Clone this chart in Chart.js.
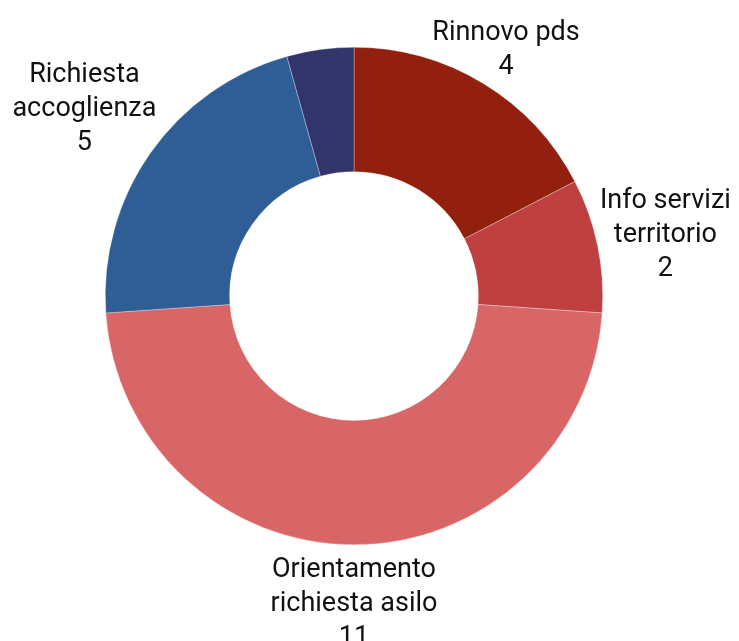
<!DOCTYPE html>
<html>
<head>
<meta charset="utf-8">
<script src="https://cdn.jsdelivr.net/npm/chart.js@4"></script>
<style>
  html, body { margin: 0; padding: 0; background: #fff; }
  canvas { display: block; }
</style>
</head>
<body>
<canvas id="donutChart" width="739" height="641"></canvas>
<script>
// Chart data
const categories = [
  ["Rinnovo pds"],
  ["Info servizi", "territorio"],
  ["Orientamento", "richiesta asilo"],
  ["Richiesta", "accoglienza"],
  ["Altro"]
];
const values = [4, 2, 11, 5, 1];
const colors = ["#93200e", "#bf4040", "#d96666", "#2e5e95", "#31356b"];

// draws "name / value" labels outside each slice
const outsideLabels = {
  id: 'outsideLabels',
  afterDraw(chart) {
    const ctx = chart.ctx;
    const meta = chart.getDatasetMeta(0);
    const lineH = 34;
    const gap = 4;
    ctx.save();
    ctx.font = '27px Roboto';
    ctx.fillStyle = '#111';
    ctx.textAlign = 'center';
    ctx.textBaseline = 'middle';
    meta.data.forEach((arc, i) => {
      const { x, y, startAngle, endAngle, outerRadius } = arc.getProps(['x', 'y', 'startAngle', 'endAngle', 'outerRadius'], true);
      if (endAngle - startAngle < 0.35) return; // too small, no label
      const lines = categories[i].concat([String(values[i])]);
      const w = Math.max(...lines.map(l => ctx.measureText(l).width)) / 2;
      const h = lines.length * lineH / 2;
      const mid = (startAngle + endAngle) / 2;
      const dx = Math.cos(mid), dy = Math.sin(mid);
      const inset = Math.min(Math.abs(dx) > 1e-6 ? w / Math.abs(dx) : 1e9,
                             Math.abs(dy) > 1e-6 ? h / Math.abs(dy) : 1e9);
      // tall diagonal labels tuck in a little (last line is short)
      const tuck = lines.length >= 3 ? 40 * dy * dy * Math.abs(dx) : 0;
      const t = outerRadius + gap + inset - tuck;
      const cx = x + dx * t, cy = y + dy * t + 4;
      lines.forEach((l, k) => {
        ctx.fillText(l, cx, cy - h + lineH * (k + 0.5));
      });
    });
    ctx.restore();
  }
};

const ctx = document.getElementById("donutChart").getContext("2d");
new Chart(ctx, {
  type: 'doughnut',
  data: {
    labels: categories.map(c => c.join(" ")),
    datasets: [{
      data: values,
      backgroundColor: colors,
      borderColor: "rgba(255,255,255,0.6)",
      borderWidth: 0.5
    }]
  },
  options: {
    responsive: false,
    animation: false,
    cutout: '50%',
    layout: { padding: { top: 47, bottom: 96, left: 105, right: 136 } },
    plugins: {
      legend: { display: false },
      tooltip: { enabled: false }
    }
  },
  plugins: [outsideLabels]
});
</script>
</body>
</html>
